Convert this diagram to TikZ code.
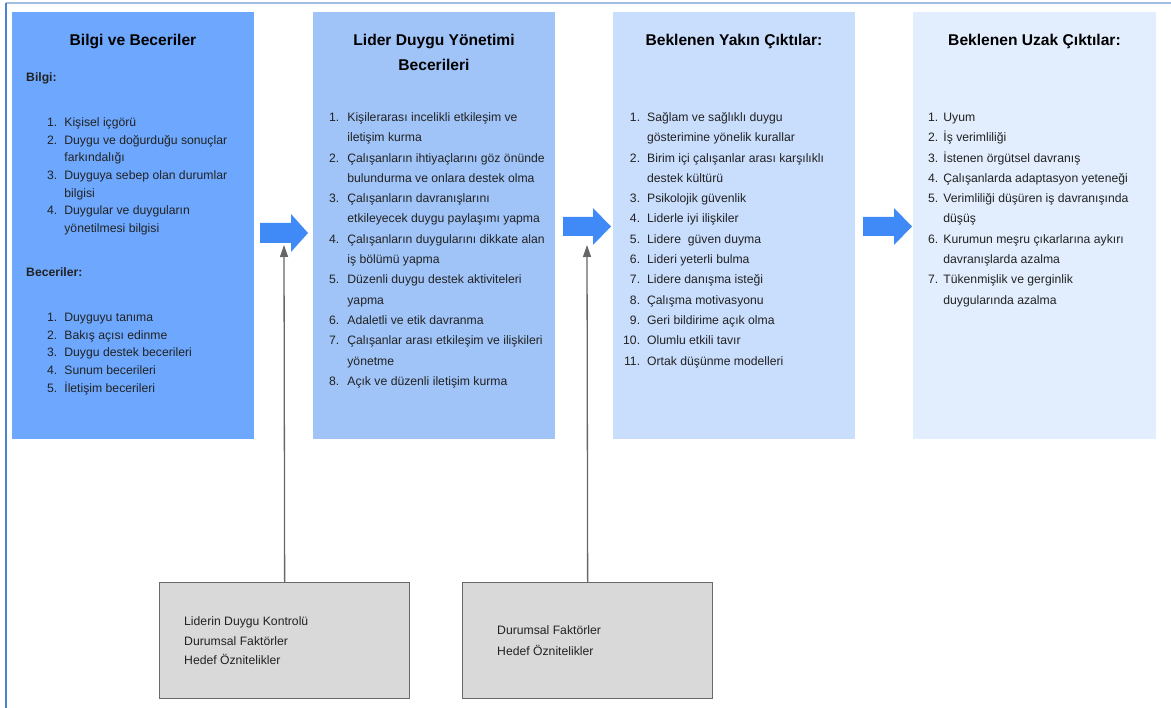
\documentclass[tikz,border=0pt]{standalone}
\usepackage{fontspec}
\setmainfont{Liberation Sans}
\usetikzlibrary{arrows.meta}
\definecolor{cA}{HTML}{6DA8FE}
\definecolor{cB}{HTML}{A0C4F8}
\definecolor{cC}{HTML}{C9DDFD}
\definecolor{cD}{HTML}{E2EDFD}
\definecolor{barrow}{HTML}{3F8AF6}
\definecolor{topline}{HTML}{A3BCE2}
\definecolor{leftline}{HTML}{4C82D3}
\definecolor{boxgray}{HTML}{D9D9D9}
\definecolor{edgegray}{HTML}{6A6A6A}
\definecolor{connGray}{HTML}{666666}
\definecolor{txt}{HTML}{222222}
\newcommand\bodyfont{\fontsize{12.2}{20.3}\selectfont}
\newcommand\tightfont{\fontsize{12.2}{17.65}\selectfont}
\newcommand\blockarrow[6]{% x0, yc, xhead, xtip, shaft half, head half
  \fill[barrow] (#1,#2-#5) -- (#3,#2-#5) -- (#3,#2-#6) -- (#4,#2) -- (#3,#2+#6) -- (#3,#2+#5) -- (#1,#2+#5) -- cycle;}
\tikzset{
  panel/.style={draw=none, inner sep=0, anchor=north west, minimum height=427},
  factor/.style={draw=edgegray, line width=1.3pt, fill=boxgray, inner sep=0, anchor=north west, minimum width=250, minimum height=116},
  heading/.style={anchor=base, inner sep=0, font=\fontsize{15.6}{25}\bfseries\selectfont},
  subhead/.style={anchor=base west, inner sep=0, text=txt, font=\fontsize{12.2}{20}\bfseries\selectfont},
  listtext/.style={anchor=base west, inner sep=0, align=left, text=txt},
  plain/.style={anchor=base west, inner sep=0, text=txt, font=\bodyfont},
  conn/.style={draw=connGray, line width=1.3pt, -{Triangle[width=8pt,length=12pt]}},
}
\begin{document}
\begin{tikzpicture}[x=1pt,y=-1pt]
\useasboundingbox (0,0) rectangle (1171,708);
% frame lines
\draw[topline, line width=1.2pt] (6,3) -- (1171,3);
\draw[leftline, line width=1.2pt] (6,3) -- (6,708);

% panels
\node[panel, fill=cA, minimum width=242] (p1) at (12,12) {};
\node[panel, fill=cB, minimum width=242] (p2) at (313,12) {};
\node[panel, fill=cC, minimum width=242] (p3) at (613,12) {};
\node[panel, fill=cD, minimum width=243] (p4) at (913,12) {};

% headings
\node[heading] (h1) at (133,45.5) {Bilgi ve Beceriler};
\node[heading] (h2a) at (434,45.5) {Lider Duygu Yönetimi};
\node[heading] (h2b) at (434,70.5) {Becerileri};
\node[heading] (h3) at (734,45.5) {Beklenen Yakın Çıktılar:};
\node[heading] (h4) at (1034.5,45.5) {Beklenen Uzak Çıktılar:};

% panel 1
\node[subhead] (s1) at (26,81.5) {Bilgi:};
\node[listtext] (l1a) at (47,126.5) {\tightfont\begin{tabular}[t]{@{}r@{\hspace{7pt}}l@{}}
1. & Kişisel içgörü\\
2. & Duygu ve doğurduğu sonuçlar\\
   & farkındalığı\\
3. & Duyguya sebep olan durumlar\\
   & bilgisi\\
4. & Duygular ve duyguların\\
   & yönetilmesi bilgisi
\end{tabular}};
\node[subhead] (s2) at (26,276.5) {Beceriler:};
\node[listtext] (l1b) at (47,321.5) {\tightfont\begin{tabular}[t]{@{}r@{\hspace{7pt}}l@{}}
1. & Duyguyu tanıma\\
2. & Bakış açısı edinme\\
3. & Duygu destek becerileri\\
4. & Sunum becerileri\\
5. & İletişim becerileri
\end{tabular}};

% panel 2
\node[listtext] (l2) at (329,121.5) {\bodyfont\begin{tabular}[t]{@{}r@{\hspace{8pt}}l@{}}
1. & Kişilerarası incelikli etkileşim ve\\
   & iletişim kurma\\
2. & Çalışanların ihtiyaçlarını göz önünde\\
   & bulundurma ve onlara destek olma\\
3. & Çalışanların davranışlarını\\
   & etkileyecek duygu paylaşımı yapma\\
4. & Çalışanların duygularını dikkate alan\\
   & iş bölümü yapma\\
5. & Düzenli duygu destek aktiviteleri\\
   & yapma\\
6. & Adaletli ve etik davranma\\
7. & Çalışanlar arası etkileşim ve ilişkileri\\
   & yönetme\\
8. & Açık ve düzenli iletişim kurma
\end{tabular}};

% panel 3
\node[listtext] (l3) at (623,121.5) {\bodyfont\begin{tabular}[t]{@{}r@{\hspace{7pt}}l@{}}
1. & Sağlam ve sağlıklı duygu\\
   & gösterimine yönelik kurallar\\
2. & Birim içi çalışanlar arası karşılıklı\\
   & destek kültürü\\
3. & Psikolojik güvenlik\\
4. & Liderle iyi ilişkiler\\
5. & Lidere~ güven duyma\\
6. & Lideri yeterli bulma\\
7. & Lidere danışma isteği\\
8. & Çalışma motivasyonu\\
9. & Geri bildirime açık olma\\
10. & Olumlu etkili tavır\\
11. & Ortak düşünme modelleri
\end{tabular}};

% panel 4
\node[listtext] (l4) at (928,121.5) {\bodyfont\begin{tabular}[t]{@{}r@{\hspace{5pt}}l@{}}
1. & Uyum\\
2. & İş verimliliği\\
3. & İstenen örgütsel davranış\\
4. & Çalışanlarda adaptasyon yeteneği\\
5. & Verimliliği düşüren iş davranışında\\
   & düşüş\\
6. & Kurumun meşru çıkarlarına aykırı\\
   & davranışlarda azalma\\
7. & Tükenmişlik ve gerginlik\\
   & duygularında azalma
\end{tabular}};

% block arrows
\blockarrow{260}{233}{291}{308}{10}{19}
\blockarrow{563}{226.5}{593}{611}{9.5}{18.5}
\blockarrow{863}{226.5}{894}{912}{9.5}{18.5}

% factor boxes
\node[factor] (bA) at (159,582) {};
\node[factor] (bB) at (462,582) {};
\node[plain] (tA1) at (184,625.5) {Liderin Duygu Kontrolü};
\node[plain] (tA2) at (184,645) {Durumsal Faktörler};
\node[plain] (tA3) at (184,664.5) {Hedef Öznitelikler};
\node[plain] (tB1) at (497,634.5) {Durumsal Faktörler};
\node[plain] (tB2) at (497,655) {Hedef Öznitelikler};

% connectors
\coordinate (t1) at (284,245);
\coordinate (t2) at (587,245);
\draw[conn] (bA.north) -- (t1);
\draw[conn] (bB.north) -- (t2);
\end{tikzpicture}
\end{document}
